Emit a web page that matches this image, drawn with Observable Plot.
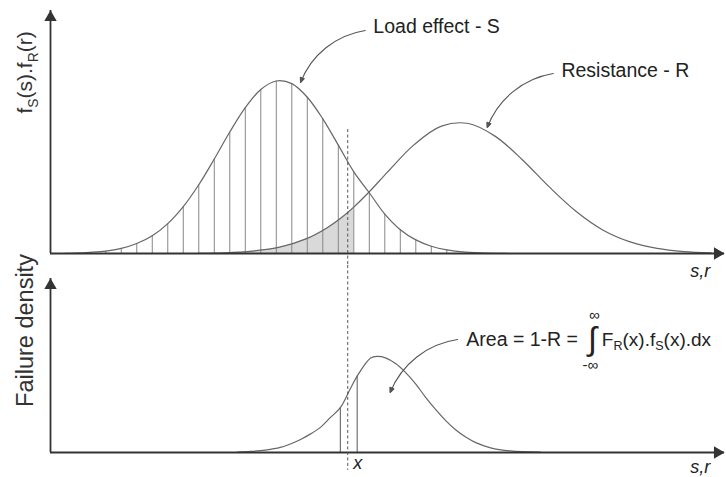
<!DOCTYPE html>
<html>
<head>
<meta charset="utf-8">
<script src="https://cdn.jsdelivr.net/npm/d3@7"></script>
<script src="https://cdn.jsdelivr.net/npm/@observablehq/plot@0.6"></script>
<style>
  html, body { margin: 0; padding: 0; background: #fff; }
  #chart { position: relative; width: 726px; height: 477px; }
  #chart svg { position: absolute; left: 0; }
</style>
</head>
<body>
<div id="chart"></div>
<script>
// Load effect S: probability density sampled along the s,r axis
const sAt = [2.2, 3.7, 5.9, 8.2, 10.5, 12.8, 15.1, 17.4, 19.7, 22.0, 24.3, 26.6, 28.9, 31.2, 33.5, 35.8, 38.1, 40.4, 42.7, 45.0, 47.3, 49.6, 51.9, 54.2, 56.5, 58.8, 61.6, 64.5, 67.5];
const sDensity = [0.1, 0.2, 0.5, 1.0, 2.1, 4.1, 7.3, 12.3, 19.3, 28.3, 38.9, 50.0, 60.0, 67.5, 71.0, 69.9, 64.3, 55.4, 44.6, 33.6, 25.0, 16.2, 9.8, 5.6, 3.0, 1.5, 0.6, 0.2, 0.1];

// Resistance R
const rAt = [22, 26, 30, 34, 38, 41, 43, 45, 47.3, 50, 54, 58, 62, 66, 70, 74, 78, 82, 86, 90, 94, 98];
const rDensity = [0.1, 0.3, 1.0, 2.6, 6.1, 10.5, 14.4, 19.1, 25.4, 33.5, 44.9, 52.4, 53.5, 48.2, 38.6, 27.4, 17.3, 9.6, 4.8, 2.1, 0.8, 0.3];

// Failure density f_S(x).F_R(x)
const failAt = [27.7, 29.7, 31.9, 34.1, 35.6, 37.1, 38.6, 40.1, 41.5, 43.0, 44.5, 45.5, 47.5, 48.5, 49.7, 51.2, 52.7, 54.2, 55.6, 57.1, 58.6, 60.1, 61.6, 63.1, 65.3, 68.2, 72.7];
const failDensity = [0.2, 0.6, 1.4, 2.9, 4.9, 7.5, 10.7, 14.6, 20.0, 25.8, 36.8, 43.9, 54.3, 55.2, 54.4, 51.1, 45.9, 39.3, 32.0, 24.9, 18.5, 13.1, 8.9, 5.7, 2.7, 0.9, 0.2];

// the point x, the hatched span of S, the shaded overlap and the strip dx
const xPoint = 44.1;
const hatchSpan = [5.9, 58.8];
const overlapEnd = 45.0;
const stripSpan = [43.0, 45.5];

const S = sAt.map((x, i) => ({x, y: sDensity[i]}));
const R = rAt.map((x, i) => ({x, y: rDensity[i]}));
const F = failAt.map((x, i) => ({x, y: failDensity[i]}));

const FONT = "'Liberation Sans', Arial, Helvetica, sans-serif";
const INK = "#222";
const AXIS = "#333";
const CURVE = "#666";
const POINTER = "#555";

// rebuild "a_B" pieces of a label as subscripts
function subscripts(svg) {
  const NS = "http://www.w3.org/2000/svg";
  for (const t of svg.querySelectorAll("text")) {
    const s = t.textContent;
    if (!s.includes("_")) continue;
    const parts = s.split(/_(\w)/);
    t.textContent = "";
    let lowered = false;
    parts.forEach((p, i) => {
      if (!p) return;
      const ts = document.createElementNS(NS, "tspan");
      ts.textContent = p;
      if (i % 2) {
        ts.setAttribute("font-size", "66%");
        ts.setAttribute("dy", "0.38em");
        lowered = true;
      } else if (lowered) {
        ts.setAttribute("dy", "-0.25em");
        lowered = false;
      }
      t.appendChild(ts);
    });
  }
  return svg;
}

// give the pointer arrows solid heads
function solidHeads(svg) {
  for (const p of svg.querySelectorAll("g[aria-label='arrow'] path")) {
    const parts = p.getAttribute("d").split("M");
    if (parts.length < 3) continue;
    const head = p.cloneNode(false);
    head.setAttribute("d", "M" + parts[2] + "Z");
    head.setAttribute("fill", POINTER);
    head.setAttribute("stroke-linejoin", "miter");
    p.after(head);
  }
  return svg;
}

function axes() {
  return [
    Plot.ruleY([0], {x1: 0, x2: 100, stroke: AXIS, strokeWidth: 1.8}),
    Plot.ruleX([0], {y1: 0, y2: 100, stroke: AXIS, strokeWidth: 1.8}),
    Plot.dot([0], {x: 100, y: 0, symbol: "triangle", r: 4.6, rotate: 90, dx: -7, fill: AXIS, stroke: "none"}),
    Plot.dot([0], {x: 0, y: 100, symbol: "triangle", r: 4.6, dy: 7, fill: AXIS, stroke: "none"})
  ];
}

const pointer = {bend: -30, headLength: 7, headAngle: 45, stroke: POINTER, strokeWidth: 1.1};

const common = {
  width: 726,
  marginLeft: 50,
  marginRight: 2,
  x: {domain: [0, 100], axis: null},
  style: {fontFamily: FONT, background: "transparent", overflow: "visible"}
};

// upper panel: load effect and resistance densities
const upper = Plot.plot({
  ...common,
  height: 282,
  marginTop: 10,
  marginBottom: 29,
  y: {domain: [0, 100], axis: null},
  marks: [
    Plot.areaY(R.filter(d => d.x <= overlapEnd), {x: "x", y: "y", curve: "catmull-rom", fill: "#d9d9d9"}),
    Plot.ruleX(S.filter(d => d.x >= hatchSpan[0] && d.x <= hatchSpan[1]), {x: "x", y1: 0, y2: "y", stroke: "#888", strokeWidth: 1}),
    Plot.line(S, {x: "x", y: "y", curve: "catmull-rom", stroke: CURVE, strokeWidth: 1.2}),
    Plot.line(R, {x: "x", y: "y", curve: "catmull-rom", stroke: CURVE, strokeWidth: 1.2}),
    ...axes(),
    Plot.ruleX([xPoint], {y1: 51, y2: -4.9, stroke: POINTER, strokeWidth: 1, strokeDasharray: "3,2.5"}),
    Plot.arrow([0], {x1: 46.7, y1: 91.8, x2: 37.1, y2: 70.4, ...pointer}),
    Plot.arrow([0], {x1: 74.6, y1: 74.1, x2: 64.8, y2: 51.9, ...pointer}),
    Plot.text(["Load effect - S"], {x: 47.9, y: 93.4, textAnchor: "start", fontSize: 19.5, fill: INK}),
    Plot.text(["Resistance - R"], {x: 75.8, y: 75.3, textAnchor: "start", fontSize: 19.5, fill: INK}),
    Plot.text(["s,r"], {x: 96.4, y: -7.1, fontSize: 18, fontStyle: "italic", fill: INK}),
    Plot.text(["f_S(s).f_R(r)"], {x: -3.7, y: 74.5, rotate: -90, fontSize: 21, fill: AXIS})
  ]
});

// lower panel: failure density
const lower = Plot.plot({
  ...common,
  height: 212,
  marginTop: 13,
  marginBottom: 25,
  y: {domain: [0, 100], axis: null},
  marks: [
    Plot.ruleX(F.filter(d => d.x === stripSpan[0] || d.x === stripSpan[1]), {x: "x", y1: 0, y2: "y", stroke: POINTER, strokeWidth: 1}),
    Plot.line(F, {x: "x", y: "y", curve: "catmull-rom", stroke: CURVE, strokeWidth: 1.2}),
    ...axes(),
    Plot.ruleX([xPoint], {y1: 107.5, y2: -10.3, stroke: POINTER, strokeWidth: 1, strokeDasharray: "3,2.5"}),
    Plot.arrow([0], {x1: 60.4, y1: 64.9, x2: 50.4, y2: 34.5, ...pointer}),
    Plot.text(["Area = 1-R ="], {x: 61.7, y: 64.9, textAnchor: "start", fontSize: 19.5, fill: INK}),
    Plot.text(["\u222B"], {x: 80.4, y: 64.7, fontSize: 32.5, fill: INK}),
    Plot.text(["\u221E"], {x: 80.7, y: 79.2, fontSize: 15, fill: INK}),
    Plot.text(["-\u221E"], {x: 80.1, y: 50.2, fontSize: 15, fill: INK}),
    Plot.text(["F_R(x).f_S(x).dx"], {x: 81.8, y: 64.9, textAnchor: "start", fontSize: 19, fill: INK}),
    Plot.text(["x"], {x: 45.6, y: -5.9, fontSize: 18, fontStyle: "italic", fill: INK}),
    Plot.text(["s,r"], {x: 96.4, y: -8.2, fontSize: 18, fontStyle: "italic", fill: INK}),
    Plot.text(["Failure density"], {x: -3.7, y: 70.1, rotate: -90, fontSize: 23.5, fill: AXIS})
  ]
});

upper.style.top = "0px";
lower.style.top = "265px";
document.getElementById("chart").append(
  solidHeads(subscripts(upper)),
  solidHeads(subscripts(lower))
);
</script>
</body>
</html>
